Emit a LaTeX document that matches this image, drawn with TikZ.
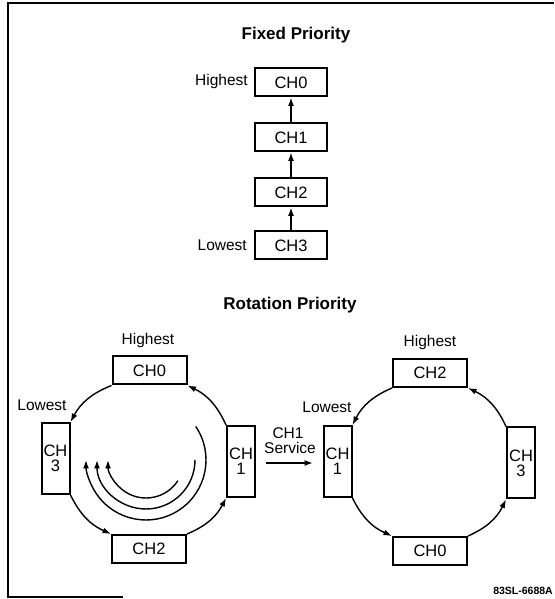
\documentclass[tikz,border=0pt]{standalone}
\usepackage{fontspec}
\setmainfont{Liberation Sans}
\usetikzlibrary{arrows.meta,calc}
\begin{document}
\begin{tikzpicture}[x=1pt,y=1pt,
  lbl/.style={font=\fontsize{15.5}{15}\selectfont, inner sep=0pt},
  ttl/.style={font=\bfseries\fontsize{17}{17}\selectfont, inner sep=0pt},
  hbox/.style={draw, line width=2pt, minimum width=74pt, minimum height=28pt, inner sep=0pt, font=\fontsize{16.5}{15}\selectfont},
  vbox/.style={draw, line width=2pt, minimum width=28pt, minimum height=71pt, inner sep=0pt, align=center, font=\fontsize{16.5}{15}\selectfont},
  fbox/.style={draw, line width=2pt, minimum width=72pt, minimum height=28pt, inner sep=0pt, font=\fontsize{16.5}{15}\selectfont},
  arr/.style={line width=1.4pt, -{Latex[length=8.5pt,width=6pt]}},
  ring/.style={arr, bend right=20},
  frame/.style={line width=1.8pt}
]
\useasboundingbox (0,0) rectangle (554,599);

% frame
\coordinate (f1) at (123,2);
\coordinate (f2) at (8,2);
\coordinate (f3) at (8,596);
\coordinate (f4) at (554,596);
\draw[frame] (f1) -- (f2) -- (f3) -- (f4);

% Fixed priority
\node[ttl] (t1) at (296,564) {Fixed Priority};
\node[fbox] (f0) at (291,516.5) {CH0};
\node[fbox] (fa) at (291,461.5) {CH1};
\node[fbox] (fb) at (291,406.5) {CH2};
\node[fbox] (fc) at (291,353.5) {CH3};
\node[lbl, anchor=east] (fh) at (248,517) {Highest};
\node[lbl, anchor=east] (fl) at (247,354) {Lowest};
\draw[arr] (fa.north) -- (f0.south);
\draw[arr] (fb.north) -- (fa.south);
\draw[arr] (fc.north) -- (fb.south);

% Rotation priority
\node[ttl] (t2) at (290,294) {Rotation Priority};

% left ring
\node[hbox] (a0) at (149.5,228.5) {CH0};
\node[vbox] (a3) at (55.5,140.5) {CH\\3};
\node[vbox] (a1) at (241,137.5) {CH\\1};
\node[hbox] (a2) at (149,50) {CH2};
\node[lbl] (ah) at (148,259) {Highest};
\node[lbl] (al) at (42,194) {Lowest};
\draw[ring] (a0.south west) to (a3.north east);
\draw[ring] (a3.south east) to (a2.north west);
\draw[ring] (a2.north east) to (a1.south west);
\draw[ring] (a1.north west) to (a0.south east);

% inner rotation arcs
\coordinate (ic) at (146,139);
\draw[arr] ($(ic)+(34:60)$) arc[start angle=34, end angle=-180, radius=60];
\draw[arr] ($(ic)+(0:49)$) arc[start angle=0, end angle=-180, radius=49];
\draw[arr] ($(ic)+(-33:38)$) arc[start angle=-33, end angle=-180, radius=38];

% service
\node[lbl] (s1) at (288,166) {CH1};
\node[lbl] (s2) at (290,151) {Service};
\coordinate (sa) at (266,136);
\coordinate (sb) at (313,136);
\draw[arr] (sa) -- (sb);

% right ring
\node[hbox] (b2) at (430,226) {CH2};
\node[vbox] (b1) at (337.5,137.5) {CH\\1};
\node[vbox] (b3) at (521,136) {CH\\3};
\node[hbox] (b0) at (430,48) {CH0};
\node[lbl] (bh) at (430,257) {Highest};
\node[lbl] (bl) at (327,192) {Lowest};
\draw[ring] (b2.south west) to (b1.north east);
\draw[ring] (b1.south east) to (b0.north west);
\draw[ring] (b0.north east) to (b3.south west);
\draw[ring] (b3.north west) to (b2.south east);

\node[inner sep=0pt, anchor=east, font=\bfseries\fontsize{10.5}{10.5}\selectfont] (code) at (553,8) {83SL-6688A};
\end{tikzpicture}
\end{document}
